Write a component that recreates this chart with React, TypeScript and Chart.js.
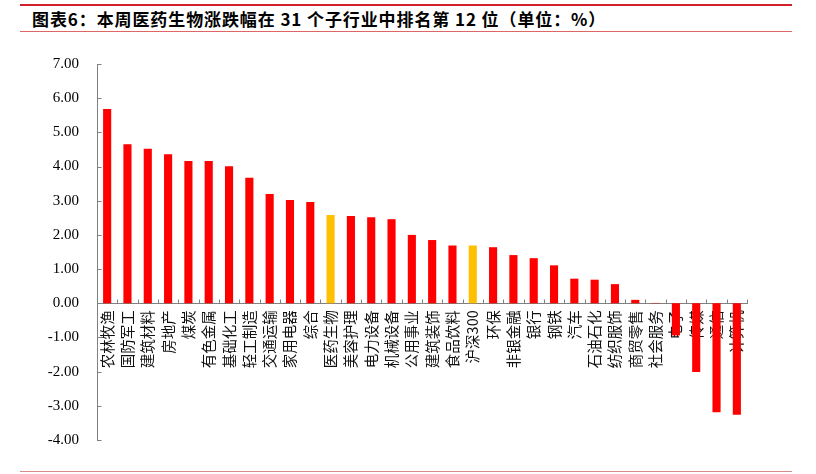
import React, { useEffect, useRef } from "react";
import { Chart, registerables } from "chart.js";

Chart.register(...registerables);

const categories: string[] = [
  "农林牧渔", "国防军工", "建筑材料", "房地产", "煤炭", "有色金属", "基础化工", "轻工制造",
  "交通运输", "家用电器", "综合", "医药生物", "美容护理", "电力设备", "机械设备", "公用事业",
  "建筑装饰", "食品饮料", "沪深300", "环保", "非银金融", "银行", "钢铁", "汽车",
  "石油石化", "纺织服饰", "商贸零售", "社会服务", "电子", "传媒", "通信", "计算机",
];

const changes: number[] = [
  5.68, 4.65, 4.52, 4.36, 4.16, 4.16, 4.01, 3.67,
  3.20, 3.02, 2.96, 2.58, 2.55, 2.52, 2.46, 2.00,
  1.85, 1.69, 1.69, 1.64, 1.41, 1.32, 1.11, 0.72,
  0.69, 0.56, 0.10, 0.01, -0.94, -2.01, -3.19, -3.26,
];

const highlighted: string[] = ["医药生物", "沪深300"];

const yTicks: number[] = [-4, -3, -2, -1, 0, 1, 2, 3, 4, 5, 6, 7];

const TITLE = "图表6：本周医药生物涨跌幅在 31 个子行业中排名第 12 位（单位：%）";

const RED = "#FF0000";
const ORANGE = "#FFC000";
const AXIS = "#808080";

const innerTicks = {
  id: "innerTicks",
  afterDraw(chart: any) {
    const { ctx, scales } = chart;
    const x = scales.x;
    const y = scales.y;
    ctx.save();
    ctx.strokeStyle = AXIS;
    ctx.lineWidth = 1;
    ctx.beginPath();
    const y0 = Math.round(y.getPixelForValue(0)) + 0.5;
    for (let i = 0; i <= categories.length; i++) {
      const px = Math.round(x.getPixelForValue(i - 0.5)) + 0.5;
      ctx.moveTo(px, y0);
      ctx.lineTo(px, y0 - 4);
    }
    const left = Math.round(chart.chartArea.left) + 0.5;
    yTicks.forEach((v) => {
      const py = Math.round(y.getPixelForValue(v)) + 0.5;
      ctx.moveTo(left, py);
      ctx.lineTo(left + 4, py);
    });
    ctx.stroke();
    ctx.restore();
  },
};

function BarChart() {
  const ref = useRef<HTMLCanvasElement | null>(null);
  useEffect(() => {
    if (!ref.current) return;
    const chart = new Chart(ref.current, {
      type: "bar",
      data: {
        labels: categories,
        datasets: [
          {
            data: changes,
            backgroundColor: categories.map((c) => (highlighted.includes(c) ? ORANGE : RED)),
            borderWidth: 0,
            categoryPercentage: 1,
            barPercentage: 0.4,
          },
        ],
      },
      plugins: [innerTicks],
      options: {
        animation: false,
        responsive: false,
        devicePixelRatio: 1,
        layout: { padding: { left: 0, right: 69, top: 64, bottom: 34 } },
        plugins: {
          legend: { display: false },
          tooltip: { enabled: false },
          title: { display: false },
        },
        scales: {
          x: {
            type: "category",
            position: { y: 0 } as any,
            grid: { display: false, drawTicks: false },
            border: { display: true, color: AXIS, width: 1 },
            ticks: {
              autoSkip: false,
              minRotation: 90,
              maxRotation: 90,
              padding: 7,
              color: "#111",
              font: { family: '"Noto Sans CJK SC", sans-serif', size: 14.5 },
            },
          },
          y: {
            min: -4,
            max: 7,
            afterFit: (s: any) => {
              s.width = 97;
            },
            afterBuildTicks: (s: any) => {
              s.ticks = yTicks.map((v) => ({ value: v }));
            },
            grid: { display: false, drawTicks: false },
            border: { display: true, color: AXIS, width: 1 },
            ticks: {
              padding: 18,
              color: "#000",
              font: { family: '"Liberation Serif", serif', size: 15 },
              callback: (v: any) => Number(v).toFixed(2),
            },
          },
        },
      },
    });
    return () => chart.destroy();
  }, []);
  return (
    <canvas
      ref={ref}
      width={816}
      height={474}
      style={{ position: "absolute", left: 0, top: 0, width: 816, height: 474 }}
    />
  );
}

export default function App() {
  return (
    <div
      style={{
        position: "absolute",
        left: 0,
        top: 0,
        width: 816,
        height: 474,
        background: "#fff",
        overflow: "hidden",
      }}
    >
      <div style={{ position: "absolute", left: 20, top: 4, width: 772, height: 2, background: "#D0202A" }} />
      <div
        style={{
          position: "absolute",
          left: 32,
          top: 8,
          whiteSpace: "nowrap",
          fontFamily: '"Noto Sans CJK SC", sans-serif',
          fontWeight: 700,
          fontSize: 17,
          letterSpacing: "0.9px",
          lineHeight: "22px",
          color: "#000",
        }}
      >
        {TITLE}
      </div>
      <div style={{ position: "absolute", left: 20, top: 31, width: 772, height: 1, background: "#E06666" }} />
      <div style={{ position: "absolute", left: 20, top: 471, width: 772, height: 1, background: "#D98A8A" }} />
      <BarChart />
    </div>
  );
}
